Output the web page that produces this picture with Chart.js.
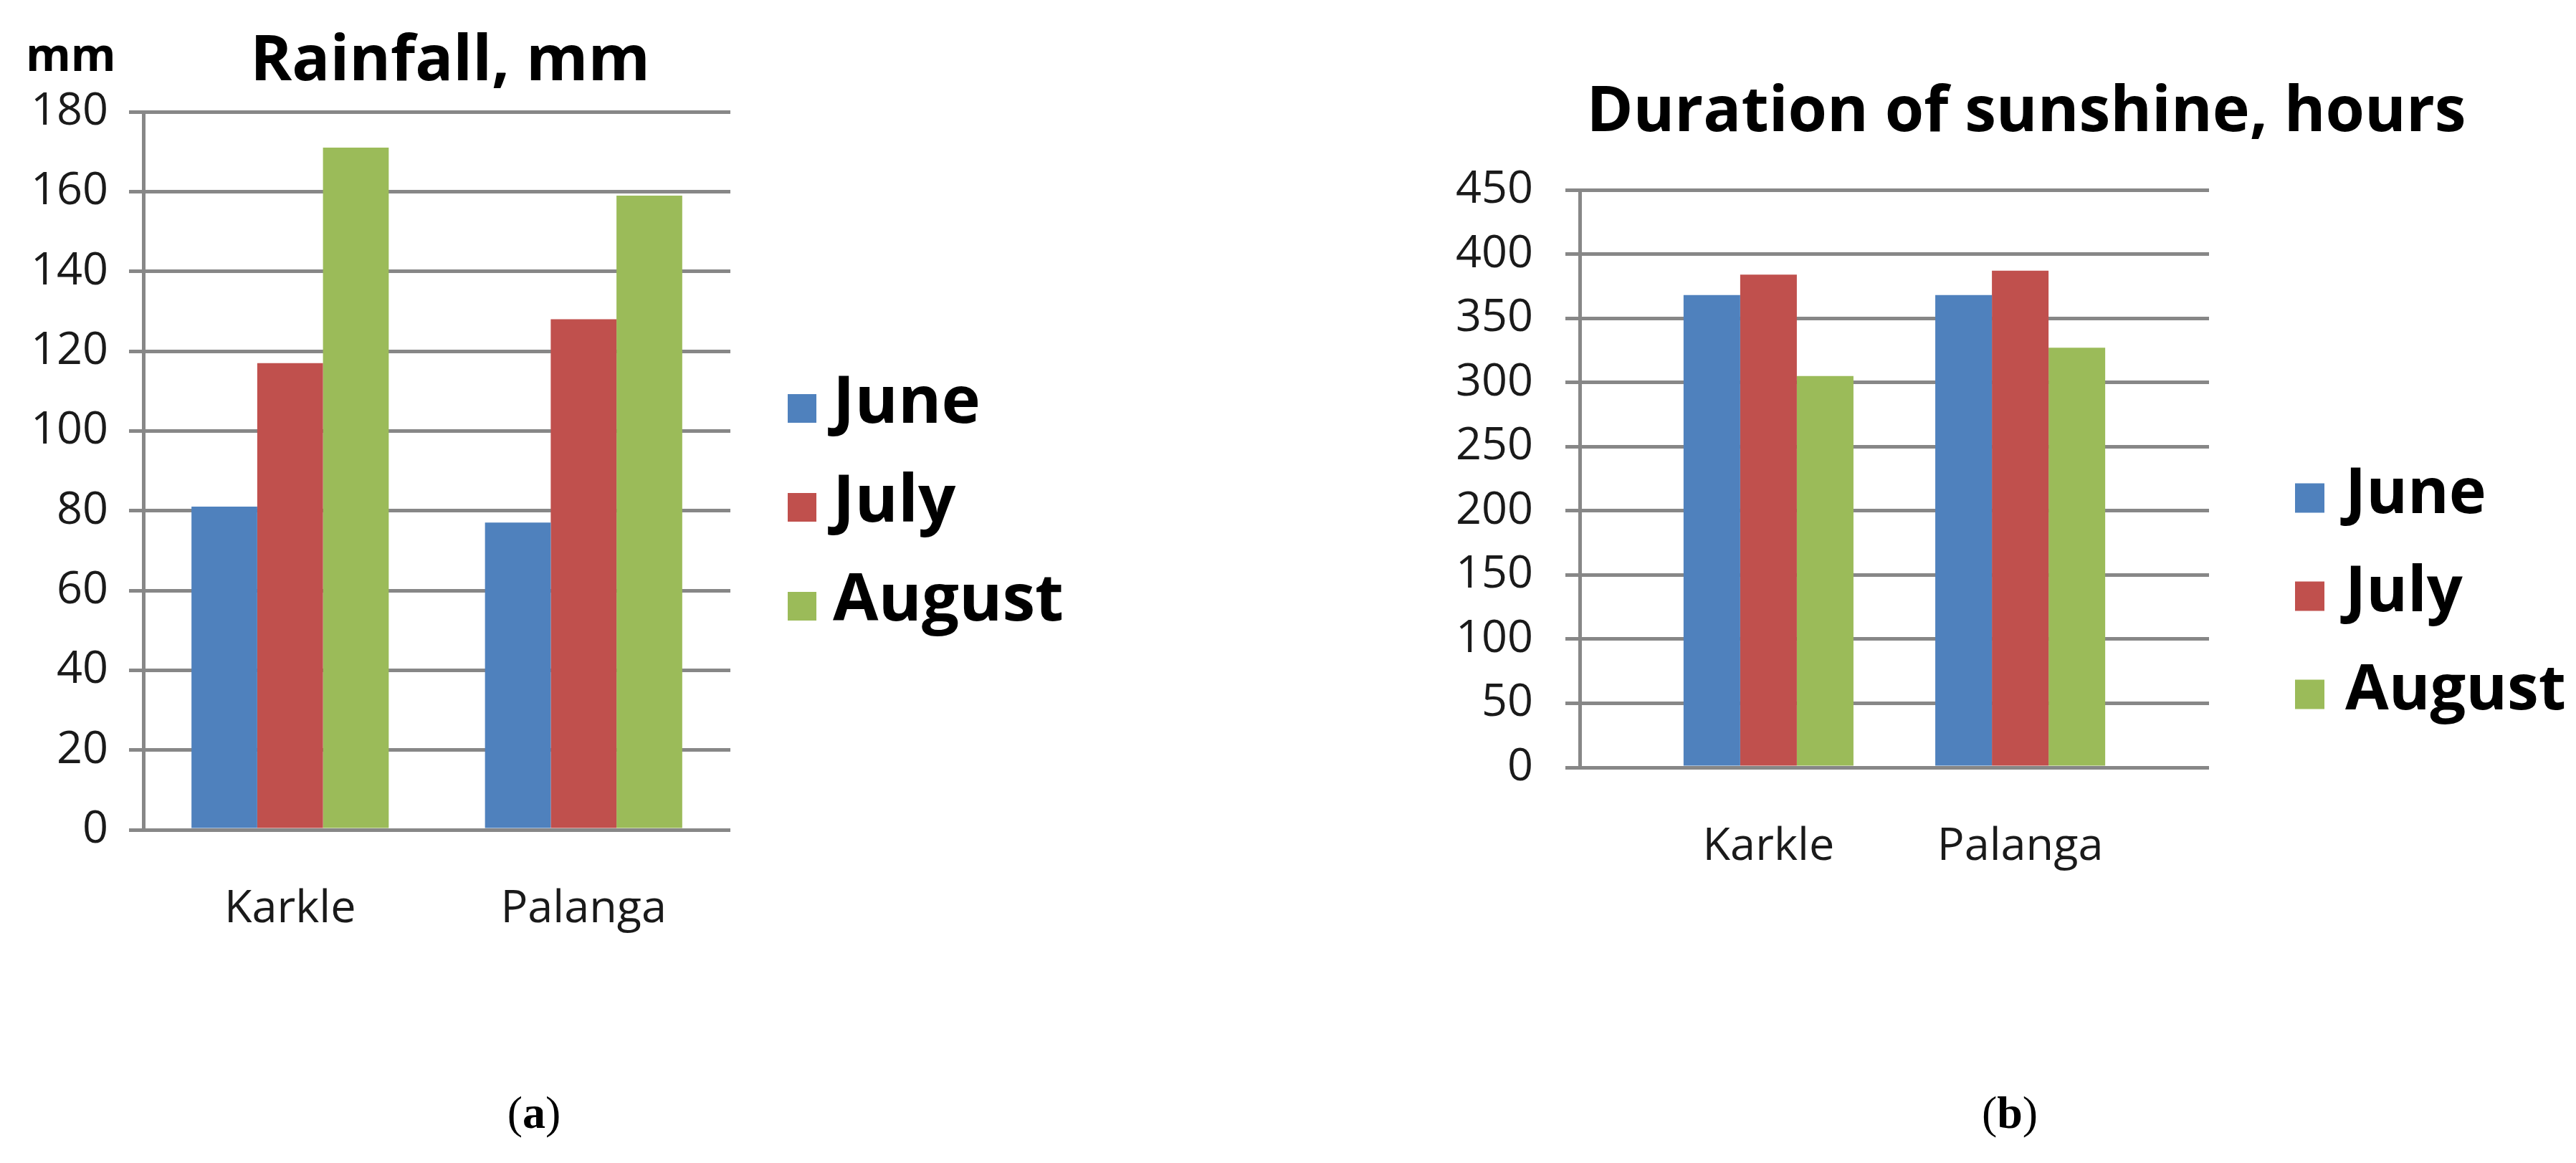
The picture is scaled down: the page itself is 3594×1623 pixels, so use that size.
<!DOCTYPE html>
<html>
<head>
<meta charset="utf-8">
<script src="https://cdn.jsdelivr.net/npm/chart.js@4.4.0/dist/chart.umd.min.js"></script>
<style>
  html, body { margin: 0; padding: 0; background: #fff; }
  body { width: 3594px; height: 1623px; position: relative; overflow: hidden; }
  canvas { position: absolute; top: 0; }
  #rain { left: 0; }
  #sun { left: 1800px; }
  .cap { position: absolute; top: 1553px; transform: translate(-50%, -50%); font: 64px "Liberation Serif", serif; color: #000; }
</style>
</head>
<body>
<canvas id="rain" width="1600" height="1330"></canvas>
<canvas id="sun" width="1794" height="1300"></canvas>
<div class="cap" style="left:745px">(<b>a</b>)</div>
<div class="cap" style="left:2804px">(<b>b</b>)</div>
<script>
const cities = ['Karkle', 'Palanga']
const months = ['June', 'July', 'August']
const colors = ['#4F81BD', '#C0504D', '#9BBB59']

// rainfall, mm
const rainJune = [81, 77]
const rainJuly = [117, 128]
const rainAugust = [171, 159]
const rainTicks = [0, 20, 40, 60, 80, 100, 120, 140, 160, 180]

// sunshine, hours
const sunJune = [368, 368]
const sunJuly = [384, 387]
const sunAugust = [305, 327]
const sunTicks = [0, 50, 100, 150, 200, 250, 300, 350, 400, 450]

const gridGrey = '#878787'
const tickFont = { family: '"Open Sans"', size: 63 }

// titles, "mm" note and the legend on the right
const decor = {
    id: 'decor',
    afterDraw(chart, args, o) {
        const ctx = chart.ctx
        ctx.save()
        ctx.fillStyle = '#000'
        ctx.textBaseline = 'alphabetic'
        ctx.textAlign = 'center'
        ctx.font = o.titleFont
        ctx.fillText(o.title, o.titleX, o.titleY)
        ctx.textAlign = 'left'
        if (o.note) {
            ctx.font = o.noteFont
            ctx.fillText(o.note, o.noteX, o.noteY)
        }
        ctx.font = o.legendFont
        chart.data.datasets.forEach((ds, i) => {
            const cy = o.legendY + i * o.legendGap
            ctx.fillStyle = ds.backgroundColor
            ctx.fillRect(o.legendX, cy - o.box / 2, o.box, o.box)
            ctx.fillStyle = '#000'
            ctx.fillText(ds.label, o.textX, cy + o.box / 2)
        })
        ctx.restore()
    }
}

function makeChart(id, series, ticks, look) {
    const data = {
        labels: cities.map((c, i) => i),
        datasets: months.map((m, i) => ({
            label: m,
            data: series[i],
            backgroundColor: colors[i],
            borderWidth: 0,
            categoryPercentage: look.groupPct,
            barPercentage: 1
        }))
    }

    const config = {
        type: 'bar',
        data,
        options: {
            responsive: false,
            animation: false,
            layout: { padding: { top: look.top, right: look.right, left: 0, bottom: 0 } },
            scales: {
                x: {
                    type: 'linear',
                    offset: false,
                    min: look.xMin,
                    max: look.xMax,
                    afterBuildTicks: s => { s.ticks = cities.map((c, i) => ({ value: i })) },
                    afterFit: s => { s.height = look.xHeight },
                    ticks: {
                        callback: v => cities[v],
                        font: tickFont,
                        color: '#1a1a1a',
                        padding: 65,
                        maxRotation: 0
                    },
                    grid: { display: false },
                    border: { display: false }
                },
                y: {
                    min: ticks[0],
                    max: ticks[ticks.length - 1],
                    afterFit: s => { s.width = look.yWidth },
                    ticks: {
                        stepSize: ticks[1] - ticks[0],
                        font: tickFont,
                        color: '#1a1a1a',
                        padding: look.yPad
                    },
                    grid: {
                        color: gridGrey,
                        lineWidth: 5,
                        drawTicks: true,
                        tickLength: 20,
                        tickColor: gridGrey
                    },
                    border: { display: true, color: gridGrey, width: 5 }
                }
            },
            plugins: {
                legend: { display: false },
                tooltip: { enabled: false },
                decor: look.decor
            }
        },
        plugins: [decor]
    }

    return new Chart(document.getElementById(id), config)
}

const rainChart = makeChart('rain', [rainJune, rainJuly, rainAugust], rainTicks, {
    groupPct: 0.672, xMin: -0.5, xMax: 1.5,
    top: 156, right: 581, yWidth: 200, xHeight: 172, yPad: 29,
    decor: {
        title: 'Rainfall, mm', titleFont: 'bold 88px "Open Sans"', titleX: 628, titleY: 112,
        note: 'mm', noteFont: 'bold 64px "Open Sans"', noteX: 36, noteY: 99,
        legendFont: 'bold 92px "Open Sans"', legendX: 1099, legendY: 570, legendGap: 138, box: 40, textX: 1162
    }
})

const sunChart = makeChart('sun', [sunJune, sunJuly, sunAugust], sunTicks, {
    groupPct: 0.675, xMin: -0.75, xMax: 1.75,
    top: 265, right: 512, yWidth: 404, xHeight: 229, yPad: 45,
    decor: {
        title: 'Duration of sunshine, hours', titleFont: 'bold 88px "Open Sans"', titleX: 1027, titleY: 183,
        legendFont: 'bold 88px "Open Sans"', legendX: 1402, legendY: 695, legendGap: 137, box: 41, textX: 1472
    }
})
</script>
</body>
</html>
